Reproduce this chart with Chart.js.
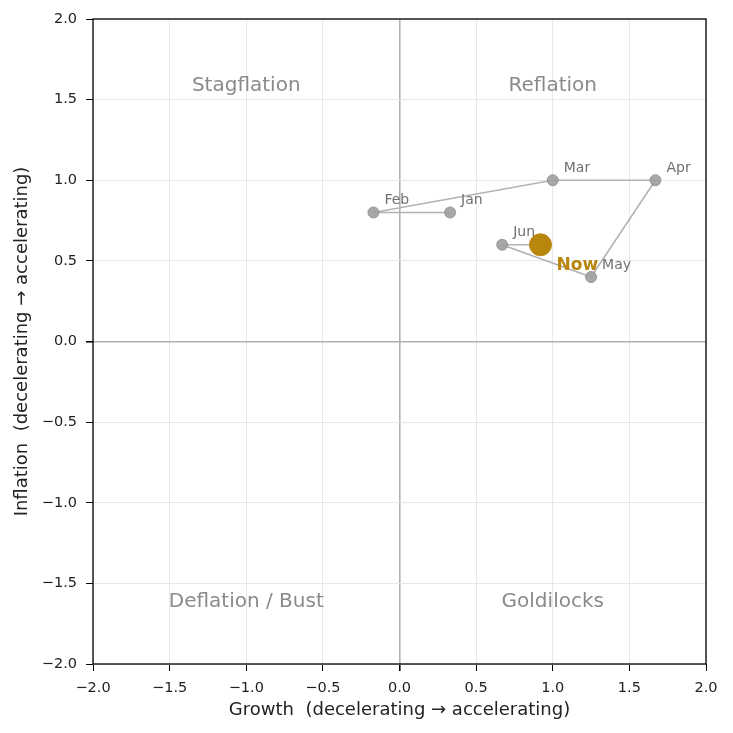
<!DOCTYPE html>
<html>
<head>
<meta charset="utf-8">
<script src="https://cdn.jsdelivr.net/npm/chart.js@4.4.1/dist/chart.umd.min.js"></script>
<style>
  html, body { margin: 0; padding: 0; background: #fff; }
  #wrap { width: 733px; height: 733px; }
</style>
</head>
<body>
<div id="wrap"><canvas id="chart" width="733" height="733"></canvas></div>
<script>
// monthly path through the regime quadrants
var months = ['Jan', 'Feb', 'Mar', 'Apr', 'May', 'Jun'];
var growth = [0.33, -0.17, 1.0, 1.67, 1.25, 0.67];
var inflation = [0.8, 0.8, 1.0, 1.0, 0.4, 0.6];
var nowGrowth = 0.92;
var nowInflation = 0.6;

var quadrantNames = ['Stagflation', 'Reflation', 'Deflation / Bust', 'Goldilocks'];
var quadrantX = [-1, 1, -1, 1];
var quadrantY = [1.6, 1.6, -1.6, -1.6];

var gold = '#b8860b';
var FONT = 'DejaVu Sans';

function fmt(v) {
    return v.toFixed(1).replace('-', '\u2212');
}

var pathData = [];
for (var i = 0; i < months.length; i++) {
    pathData.push({ x: growth[i], y: inflation[i] });
}
pathData.push({ x: nowGrowth, y: nowInflation });

var radii = months.map(function () { return 5.5; });
radii.push(0);

// frame around the plot + quadrant and month labels
var overlay = {
    id: 'overlay',
    afterDatasetsDraw: function (chart) {
        var ctx = chart.ctx, a = chart.chartArea;
        var xs = chart.scales.x, ys = chart.scales.y;
        ctx.save();
        ctx.textBaseline = 'middle';

        ctx.font = '20px ' + FONT;
        ctx.fillStyle = '#8a8a8a';
        ctx.textAlign = 'center';
        for (var q = 0; q < quadrantNames.length; q++) {
            ctx.fillText(quadrantNames[q], xs.getPixelForValue(quadrantX[q]), ys.getPixelForValue(quadrantY[q]) + 2);
        }

        ctx.font = '14px ' + FONT;
        ctx.fillStyle = '#707070';
        ctx.textAlign = 'left';
        for (var i = 0; i < months.length; i++) {
            ctx.fillText(months[i], xs.getPixelForValue(growth[i]) + 11, ys.getPixelForValue(inflation[i]) - 12);
        }

        ctx.font = 'bold 17px ' + FONT;
        ctx.fillStyle = gold;
        ctx.fillText('Now', xs.getPixelForValue(nowGrowth) + 16, ys.getPixelForValue(nowInflation) + 21);

        ctx.strokeStyle = '#000';
        ctx.lineWidth = 1.3;
        ctx.strokeRect(a.left, a.top, a.right - a.left, a.bottom - a.top);
        ctx.restore();
    }
};

function gridColor(c) {
    return c.tick && c.tick.value === 0 ? '#b0b0b0' : '#e8e8e8';
}
function gridWidth(c) {
    return c.tick && c.tick.value === 0 ? 1.6 : 1;
}

new Chart(document.getElementById('chart').getContext('2d'), {
    type: 'scatter',
    data: {
        datasets: [{
            label: 'Path',
            data: pathData,
            showLine: true,
            borderColor: '#b3b3b3',
            borderWidth: 1.6,
            pointRadius: radii,
            pointBackgroundColor: 'rgba(158,158,158,0.9)',
            pointBorderColor: 'rgba(145,145,145,0.9)',
            pointBorderWidth: 1,
            order: 2
        }, {
            label: 'Now',
            data: [{ x: nowGrowth, y: nowInflation }],
            pointRadius: 11,
            pointBackgroundColor: gold,
            pointBorderColor: gold,
            order: 1
        }]
    },
    options: {
        responsive: false,
        animation: false,
        layout: { padding: { top: 19, right: 27, left: 0, bottom: 0 } },
        plugins: {
            legend: { display: false },
            tooltip: { enabled: false }
        },
        scales: {
            x: {
                type: 'linear',
                min: -2, max: 2,
                afterFit: function (s) { s.height = 69; },
                border: { display: false },
                grid: { color: gridColor, lineWidth: gridWidth, tickColor: '#000', tickLength: 7 },
                ticks: {
                    stepSize: 0.5,
                    color: '#222',
                    font: { family: FONT, size: 14.5 },
                    padding: 9,
                    callback: function (v) { return fmt(v); }
                },
                title: {
                    display: true,
                    text: 'Growth  (decelerating \u2192 accelerating)',
                    color: '#222',
                    font: { family: FONT, size: 18 },
                    padding: { top: 0, bottom: 12 }
                }
            },
            y: {
                type: 'linear',
                min: -2, max: 2,
                afterFit: function (s) { s.width = 93; },
                border: { display: false },
                grid: { color: gridColor, lineWidth: gridWidth, tickColor: '#000', tickLength: 7 },
                ticks: {
                    stepSize: 0.5,
                    color: '#222',
                    font: { family: FONT, size: 14.5 },
                    padding: 9,
                    callback: function (v) { return fmt(v); }
                },
                title: {
                    display: true,
                    text: 'Inflation  (decelerating \u2192 accelerating)',
                    color: '#222',
                    font: { family: FONT, size: 18 },
                    padding: { top: 11.5, bottom: 0 }
                }
            }
        }
    },
    plugins: [overlay]
});
</script>
</body>
</html>
